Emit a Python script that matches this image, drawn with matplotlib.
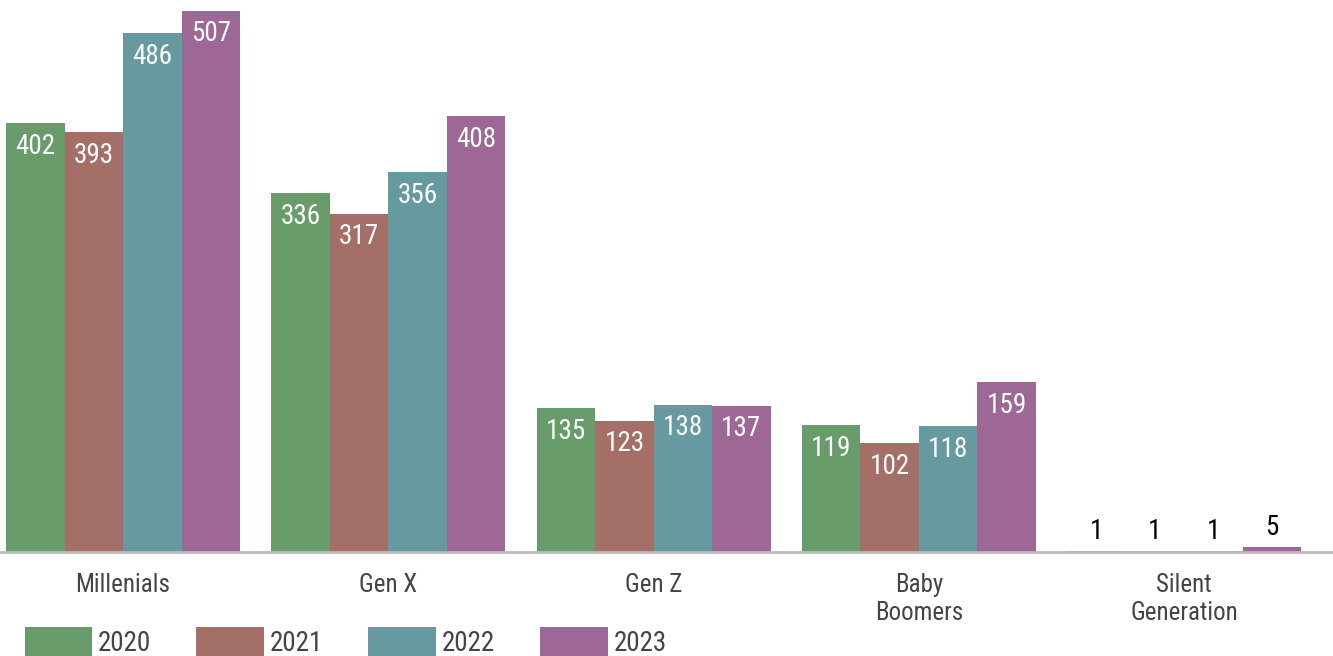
import matplotlib
matplotlib.use('Agg')
import matplotlib.pyplot as plt
import numpy as np

plt.rcParams['font.family'] = ['Liberation Sans Narrow', 'Roboto Condensed', 'Liberation Sans', 'DejaVu Sans']

# Data
categories = ['Millenials', 'Gen X', 'Gen Z', 'Baby\nBoomers', 'Silent\nGeneration']
years = ['2020', '2021', '2022', '2023']
values = {
    '2020': [402, 336, 135, 119, 1],
    '2021': [393, 317, 123, 102, 1],
    '2022': [486, 356, 138, 118, 1],
    '2023': [507, 408, 137, 159, 5],
}
colors = ['#689c6a', '#a36f66', '#669aa0', '#9e6896']

fig = plt.figure(figsize=(13.33, 6.56), dpi=100)
ax = fig.add_axes([0, 104 / 656, 1, 552 / 656])

x = np.arange(len(categories))
w = 0.2205
for i, yr in enumerate(years):
    pos = x + (i - 1.5) * w
    ax.bar(pos, values[yr], width=w, color=colors[i], label=yr)
    for xp, v in zip(pos, values[yr]):
        if v > 20:
            ax.annotate(str(v), (xp, v), xytext=(0, -7), textcoords='offset points',
                        ha='center', va='top', color='white', fontsize=19.5)
        else:
            ax.annotate(str(v), (xp, v), xytext=(0, 4), textcoords='offset points',
                        ha='center', va='bottom', color='black', fontsize=19.5)

ax.set_xlim(-0.464, 4.561)
ax.set_ylim(0, 517)
ax.set_xticks(x)
ax.set_xticklabels(categories, fontsize=18, color='#444444', linespacing=1.2)
ax.tick_params(axis='x', length=0, pad=15)
ax.set_yticks([])
for s in ['top', 'left', 'right']:
    ax.spines[s].set_visible(False)
ax.spines['bottom'].set_color('#bbbbbb')
ax.spines['bottom'].set_linewidth(2)

fig.legend(loc='lower left', bbox_to_anchor=(11 / 1333, -0.022), ncol=4, frameon=False,
           fontsize=19.5, handlelength=2.5, handleheight=1.25, handletextpad=0.2,
           columnspacing=1.68, borderpad=0, labelcolor='#444444')

fig.savefig('out.png', dpi=100)
